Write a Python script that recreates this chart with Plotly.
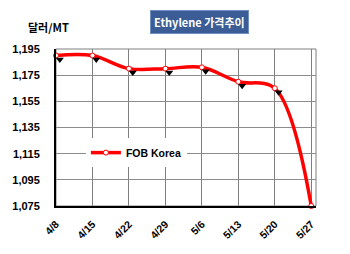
import plotly.graph_objects as go

dates = ["4/8", "4/15", "4/22", "4/29", "5/6", "5/13", "5/20", "5/27"]
fob_korea = [1190, 1190, 1180, 1180, 1181, 1170, 1165, 1075]
y_ticks = [1075, 1095, 1115, 1135, 1155, 1175, 1195]

FONT = "Liberation Sans, Arial, sans-serif"
KFONT = "Noto Sans CJK KR, Liberation Sans, sans-serif"

fig = go.Figure()

# shadow markers (drawn on offset axes)
fig.add_trace(go.Scatter(
    x=dates, y=fob_korea, mode="markers", xaxis="x2", yaxis="y2",
    marker=dict(symbol="triangle-down", size=7, color="black"),
    showlegend=False, hoverinfo="skip", cliponaxis=False,
))
fig.add_trace(go.Scatter(
    x=dates, y=fob_korea, mode="lines+markers", name="FOB Korea",
    line=dict(color="#FF0000", width=3.5, shape="spline", smoothing=1),
    marker=dict(symbol="circle", size=5, color="white",
                line=dict(color="#FF0000", width=1)),
    cliponaxis=False,
))

xr = [0, 7.13]
yr = [1075, 1195]
fig.update_layout(
    width=350, height=254,
    margin=dict(l=46, r=34, t=49, b=48),
    paper_bgcolor="white", plot_bgcolor="white",
    showlegend=True,
    legend=dict(x=0.115, y=0.34, xanchor="left", yanchor="middle",
                bgcolor="white", borderwidth=0,
                font=dict(family=FONT, size=10.5, color="black", weight="bold"),
                itemwidth=30, tracegroupgap=0),
    xaxis=dict(type="category", range=xr, showgrid=True, gridcolor="#7f7f7f",
               gridwidth=1, showline=True, linecolor="black", linewidth=2,
               tickangle=-45, ticks="", zeroline=False, ticklabelstandoff=6,
               tickfont=dict(family=FONT, size=10.5, color="black", weight="bold")),
    yaxis=dict(range=yr, tickvals=y_ticks, tickformat=",", showgrid=True,
               gridcolor="#8c8c8c", gridwidth=1, showline=True,
               linecolor="black", linewidth=2, ticks="", zeroline=False,
               ticklabelstandoff=12,
               tickfont=dict(family=FONT, size=11, color="black", weight="bold")),
    xaxis2=dict(type="category", overlaying="x", range=[xr[0] - 0.105, xr[1] - 0.105],
                visible=False),
    yaxis2=dict(overlaying="y", range=[yr[0] + 3.0, yr[1] + 3.0], visible=False),
    shapes=[dict(type="rect", xref="paper", yref="paper", x0=0, x1=1, y0=0, y1=1,
                 line=dict(color="#7f7f7f", width=1), layer="below")],
    annotations=[
        dict(text="Ethylene 가격추이", xref="paper", yref="paper",
             x=(195.5 - 46) / 270, y=(206 - 22) / 157, xanchor="center", yanchor="middle",
             showarrow=False, bgcolor="#3B5C94", bordercolor="#6F8FC0", borderwidth=1,
             borderpad=3, font=dict(family=KFONT, size=11, color="white", weight="bold")),
        dict(text="달러/MT", xref="paper", yref="paper",
             x=(15 - 46) / 270, y=(206 - 27) / 157, xanchor="left", yanchor="middle",
             showarrow=False,
             font=dict(family=KFONT, size=11, color="black", weight="bold")),
    ],
)

fig.write_html("out.html")
